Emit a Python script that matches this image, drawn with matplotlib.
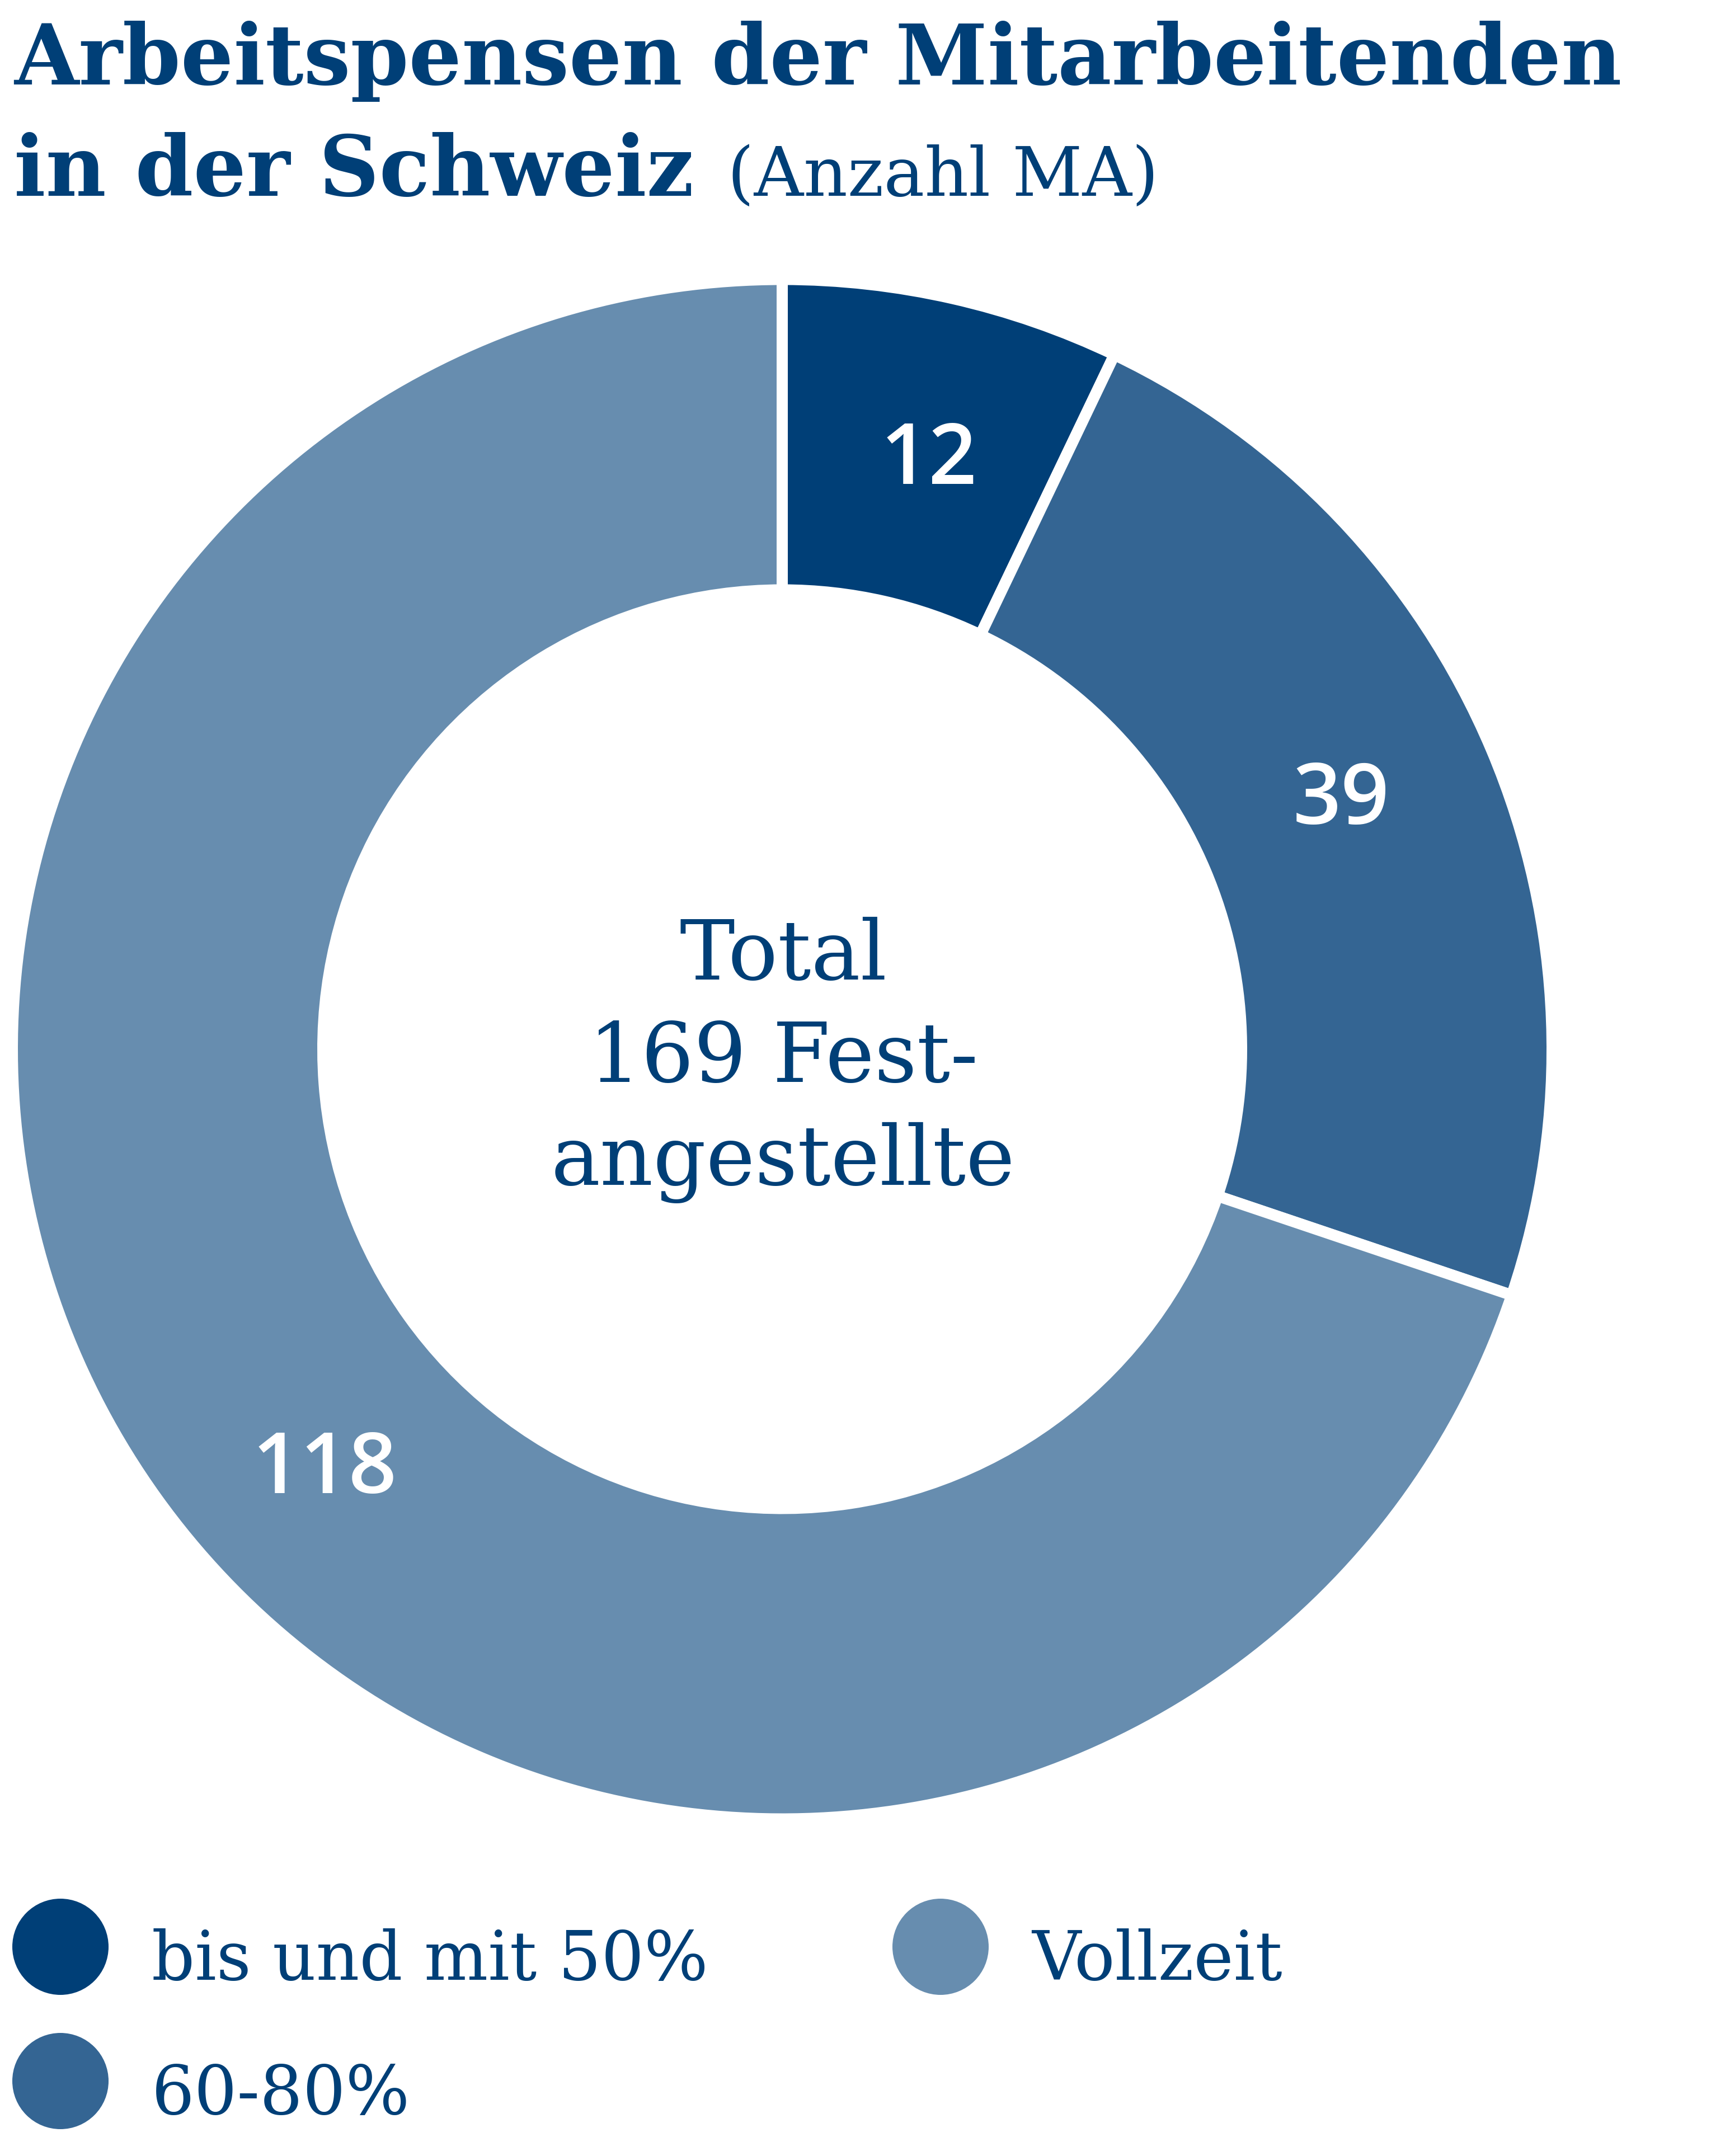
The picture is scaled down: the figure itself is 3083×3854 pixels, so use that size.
import numpy as np
import matplotlib
matplotlib.use("Agg")
import matplotlib.pyplot as plt
from matplotlib.patches import Circle

# ---------------- data ----------------
categories = ["bis und mit 50%", "60-80%", "Vollzeit"]
values = [12, 39, 118]
colors = ["#003F77", "#346593", "#678DAF"]
title_line1 = "Arbeitspensen der Mitarbeitenden"
title_line2 = "in der Schweiz"
title_unit = "(Anzahl MA)"
center_lines = ["Total", "169 Fest-", "angestellte"]

# ---------------- layout ----------------
W, H = 3083, 3854
TEXT = "#003F77"
SERIF = ["DejaVu Serif"]
SANS = ["Open Sans", "DejaVu Sans"]
label_angle_shift = [-1.0, 1.8, 6.3]   # degrees (layout nudge of value labels)
label_radius = 1100

fig = plt.figure(figsize=(W / 100, H / 100), dpi=100)
renderer = fig.canvas.get_renderer()

# pie axes (pixel units, y up)
axp = fig.add_axes([0, 0, 1, 1])
# overlay axes (pixel units, y down)
ax0 = fig.add_axes([0, 0, 1, 1])
ax0.set_xlim(0, W)
ax0.set_ylim(H, 0)
ax0.axis("off")


def fit_size(text, family, weight, target_w):
    t = ax0.text(0, 0, text, fontsize=100, family=family, weight=weight)
    w = t.get_window_extent(renderer).width
    t.remove()
    return 100 * target_w / w


# donut
cx, cy = 1398, H - 1875.5
R_out = 1376
ring = 555
wedges, _ = axp.pie(
    values,
    colors=colors,
    startangle=90,
    counterclock=False,
    radius=R_out,
    center=(cx, cy),
    wedgeprops=dict(width=ring, edgecolor="white", linewidth=14.4),
)
axp.set_xlim(0, W)
axp.set_ylim(0, H)
axp.set_aspect("auto")
axp.axis("off")

num_weight = "semibold"
num_size = fit_size("118", SANS, num_weight, 259)
for w, v, sh in zip(wedges, values, label_angle_shift):
    mid = np.deg2rad((w.theta1 + w.theta2) / 2 + sh)
    axp.text(cx + label_radius * np.cos(mid), cy + label_radius * np.sin(mid),
             str(v), color="white", fontsize=num_size, family=SANS,
             weight=num_weight, ha="center", va="center_baseline")

# title
tsize = fit_size(title_line1, SERIF, "bold", 2875)
ax0.text(25, 151, title_line1, fontsize=tsize, family=SERIF, weight="bold",
         color=TEXT, ha="left", va="baseline")
t2 = ax0.text(25, 350, title_line2, fontsize=tsize, family=SERIF, weight="bold",
              color=TEXT, ha="left", va="baseline")
usize = fit_size(title_unit, SERIF, "normal", 771)
bb = t2.get_window_extent(renderer)
x_end = ax0.transData.inverted().transform((bb.x1, bb.y0))[0]
ax0.text(x_end + 60, 350, title_unit, fontsize=usize, family=SERIF,
         weight="normal", color=TEXT, ha="left", va="baseline")

# centre text
csize = fit_size(center_lines[2], SERIF, "normal", 829)
for i, line in enumerate(center_lines):
    ax0.text(1400, 1751 + i * 183.5, line, fontsize=csize, family=SERIF,
             color=TEXT, ha="center", va="baseline")

# legend
lsize = fit_size(categories[0], SERIF, "normal", 995)
legend_pos = {
    "bis und mit 50%": (108, 3480),
    "Vollzeit": (1681, 3480),
    "60-80%": (108, 3720),
}
for cat, col in zip(categories, colors):
    x, y = legend_pos[cat]
    ax0.add_patch(Circle((x, y), 86, color=col, lw=0))
    ax0.text(x + 163, y + 59, cat, fontsize=lsize, family=SERIF, color=TEXT,
             ha="left", va="baseline")

fig.savefig("out.png", dpi=100)
